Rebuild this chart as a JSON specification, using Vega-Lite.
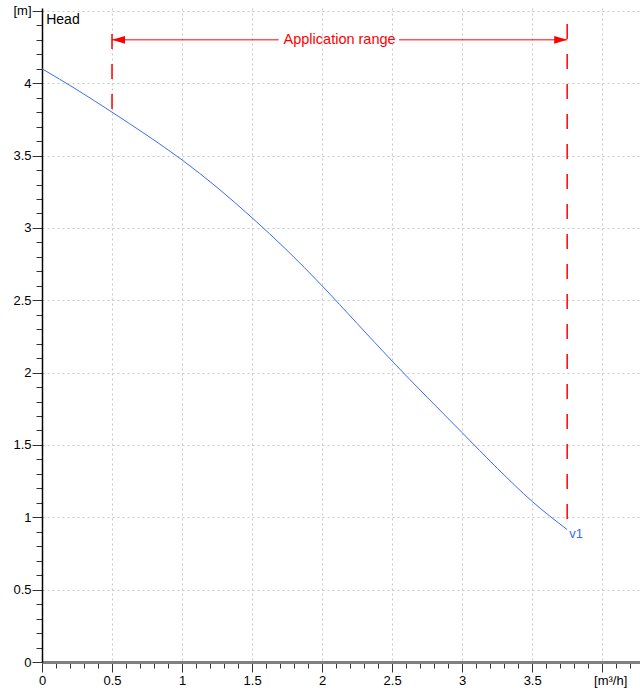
{
  "$schema": "https://vega.github.io/schema/vega-lite/v6.json",
  "autosize": {"type": "none"},
  "padding": {"left": 42, "top": 8, "right": 0, "bottom": 30},
  "width": 598,
  "height": 654,
  "background": "white",
  "config": {
    "view": {"stroke": null},
    "font": "Liberation Sans",
    "axis": {"labelFont": "Liberation Sans", "labelFontSize": 13, "labelColor": "#000000", "title": null}
  },
  "datasets": {
    "curve": [
      {"q": 0, "h": 4.10},
      {"q": 0.25, "h": 3.955},
      {"q": 0.5, "h": 3.80},
      {"q": 0.75, "h": 3.64},
      {"q": 1.0, "h": 3.47},
      {"q": 1.25, "h": 3.28},
      {"q": 1.5, "h": 3.07},
      {"q": 1.75, "h": 2.845},
      {"q": 2.0, "h": 2.60},
      {"q": 2.25, "h": 2.34},
      {"q": 2.5, "h": 2.08},
      {"q": 2.75, "h": 1.83},
      {"q": 3.0, "h": 1.585},
      {"q": 3.25, "h": 1.34},
      {"q": 3.5, "h": 1.11},
      {"q": 3.75, "h": 0.915}
    ],
    "limits": [
      {"q": 0.5, "top": 4.34, "bottom": 3.80},
      {"q": 3.75, "top": 4.41, "bottom": 0.915}
    ],
    "arrowline": [
      {"q1": 0.5, "q2": 1.69, "h": 4.3},
      {"q1": 2.55, "q2": 3.75, "h": 4.3}
    ],
    "arrowleft": [{"q": 0.5, "h": 4.3}],
    "arrowright": [{"q": 3.75, "h": 4.3}],
    "labels": [
      {"q": 2.125, "h": 4.3, "text": "Application range", "kind": "range"},
      {"q": 0.03, "h": 4.44, "text": "Head", "kind": "head"},
      {"q": 3.765, "h": 0.885, "text": "v1", "kind": "curve"}
    ]
  },
  "layer": [
    {
      "data": {"name": "curve"},
      "mark": {"type": "line", "color": "#3c6cf0", "strokeWidth": 1, "interpolate": "monotone"},
      "encoding": {
        "x": {
          "field": "q", "type": "quantitative",
          "scale": {"domain": [0, 4.27], "nice": false, "zero": false},
          "axis": {
            "values": [0,0.1,0.2,0.3,0.4,0.5,0.6,0.7,0.8,0.9,1,1.1,1.2,1.3,1.4,1.5,1.6,1.7,1.8,1.9,2,2.1,2.2,2.3,2.4,2.5,2.6,2.7,2.8,2.9,3,3.1,3.2,3.3,3.4,3.5,3.6,3.7,3.8,3.9,4,4.1,4.2],
            "tickCount": 200,
            "format": ".2~f",
            "labelExpr": "abs(datum.value*2 - round(datum.value*2)) < 0.001 ? (abs(datum.value - 4) < 0.001 ? '[m³/h]' : datum.label) : ''",
            "labelFont": "Liberation Sans",
            "labelFontSize": 13,
            "labelColor": "#000000",
            "labelOverlap": false,
            "labelFlush": false,
            "labelPadding": 2,
            "labelOffset": {"condition": {"test": "abs(datum.value - 4) < 0.001", "value": 8}, "value": 0},
            "tickSize": {"condition": {"test": "abs(datum.value*2 - round(datum.value*2)) < 0.001", "value": 10}, "value": 6},
            "tickColor": "#333333",
            "tickWidth": 1,
            "grid": true,
            "gridOpacity": {"condition": {"test": "abs(datum.value*2 - round(datum.value*2)) < 0.001", "value": 1}, "value": 0},
            "gridColor": "#c8c8c8",
            "gridDash": [2, 3],
            "gridWidth": 1,
            "domainColor": "#808080",
            "domainWidth": 3,
            "title": null
          }
        },
        "y": {
          "field": "h", "type": "quantitative",
          "scale": {"domain": [0, 4.52], "nice": false, "zero": false},
          "axis": {
            "values": [0,0.1,0.2,0.3,0.4,0.5,0.6,0.7,0.8,0.9,1,1.1,1.2,1.3,1.4,1.5,1.6,1.7,1.8,1.9,2,2.1,2.2,2.3,2.4,2.5,2.6,2.7,2.8,2.9,3,3.1,3.2,3.3,3.4,3.5,3.6,3.7,3.8,3.9,4,4.1,4.2,4.3,4.4,4.5],
            "tickCount": 200,
            "format": ".2~f",
            "labelExpr": "abs(datum.value*2 - round(datum.value*2)) < 0.001 ? (abs(datum.value - 4.5) < 0.001 ? '[m]' : datum.label) : ''",
            "labelFont": "Liberation Sans",
            "labelFontSize": 13,
            "labelColor": "#000000",
            "labelOverlap": false,
            "labelFlush": false,
            "labelPadding": 1,
            "tickSize": {"condition": {"test": "abs(datum.value*2 - round(datum.value*2)) < 0.001", "value": 10}, "value": 6},
            "tickColor": "#333333",
            "tickWidth": 1,
            "grid": true,
            "gridOpacity": {"condition": {"test": "abs(datum.value*2 - round(datum.value*2)) < 0.001 && datum.value > 0", "value": 1}, "value": 0},
            "gridColor": "#c8c8c8",
            "gridDash": [2, 3],
            "gridWidth": 1,
            "domainColor": "#000000",
            "domainWidth": 1.5,
            "title": null
          }
        }
      }
    },
    {
      "mark": {"type": "rule", "color": "#000000", "strokeWidth": 1.5},
      "encoding": {"y": {"datum": 4.52}}
    },
    {
      "data": {"name": "limits"},
      "mark": {"type": "rule", "color": "#ff0000", "strokeWidth": 1.5, "strokeDash": [15, 15]},
      "encoding": {
        "x": {"field": "q", "type": "quantitative"},
        "y": {"field": "top", "type": "quantitative"},
        "y2": {"field": "bottom"}
      }
    },
    {
      "data": {"name": "arrowline"},
      "mark": {"type": "rule", "color": "#ff0000", "strokeWidth": 1},
      "encoding": {
        "x": {"field": "q1", "type": "quantitative"},
        "x2": {"field": "q2"},
        "y": {"field": "h", "type": "quantitative"}
      }
    },
    {
      "data": {"name": "arrowleft"},
      "mark": {"type": "point", "shape": "M 0 0 L 2 -0.6 L 2 0.6 Z", "filled": true, "color": "#ff0000", "size": 169, "opacity": 1},
      "encoding": {
        "x": {"field": "q", "type": "quantitative"},
        "y": {"field": "h", "type": "quantitative"}
      }
    },
    {
      "data": {"name": "arrowright"},
      "mark": {"type": "point", "shape": "M 0 0 L -2 -0.6 L -2 0.6 Z", "filled": true, "color": "#ff0000", "size": 169, "opacity": 1},
      "encoding": {
        "x": {"field": "q", "type": "quantitative"},
        "y": {"field": "h", "type": "quantitative"}
      }
    },
    {
      "data": {"name": "labels"},
      "transform": [{"filter": "datum.kind == 'range'"}],
      "mark": {"type": "text", "color": "#ff0000", "fontSize": 14.5, "align": "center", "baseline": "middle", "font": "Liberation Sans"},
      "encoding": {
        "x": {"field": "q", "type": "quantitative"},
        "y": {"field": "h", "type": "quantitative"},
        "text": {"field": "text"}
      }
    },
    {
      "data": {"name": "labels"},
      "transform": [{"filter": "datum.kind == 'head'"}],
      "mark": {"type": "text", "color": "#000000", "fontSize": 14, "align": "left", "baseline": "middle", "font": "Liberation Sans"},
      "encoding": {
        "x": {"field": "q", "type": "quantitative"},
        "y": {"field": "h", "type": "quantitative"},
        "text": {"field": "text"}
      }
    },
    {
      "data": {"name": "labels"},
      "transform": [{"filter": "datum.kind == 'curve'"}],
      "mark": {"type": "text", "color": "#3c6cf0", "fontSize": 13, "align": "left", "baseline": "middle", "font": "Liberation Sans"},
      "encoding": {
        "x": {"field": "q", "type": "quantitative"},
        "y": {"field": "h", "type": "quantitative"},
        "text": {"field": "text"}
      }
    }
  ]
}
